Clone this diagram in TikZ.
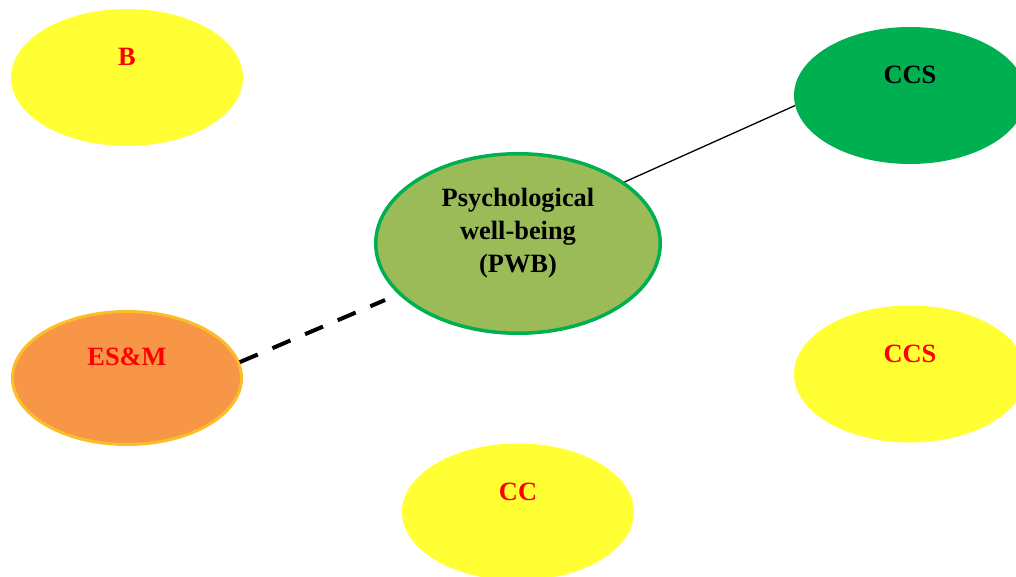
\documentclass[tikz,border=0pt]{standalone}
\usepackage{fontspec}
\setmainfont{Liberation Serif}
\usetikzlibrary{shapes.geometric}
\definecolor{ylw}{RGB}{255,255,51}
\definecolor{grn}{RGB}{0,176,80}
\definecolor{olive}{RGB}{155,187,89}
\definecolor{orng}{RGB}{247,150,70}
\definecolor{gold}{RGB}{252,190,40}
\begin{document}
\begin{tikzpicture}[x=1pt,y=-1pt,
  oval/.style={ellipse, inner sep=0pt, minimum width=232pt, minimum height=137pt},
  lbl/.style={font=\bfseries\fontsize{26.4}{33}\selectfont, text=red, inner sep=0pt}]
\useasboundingbox (0,0) rectangle (1016,577);
\clip (0,0) rectangle (1016,577);
\node[oval, fill=ylw] (b) at (127,77.5) {};
\node[lbl] (bt) at (127,57) {B};
\node[oval, fill=grn] (ccsa) at (910,95.5) {};
\node[lbl, text=black] (ccsat) at (910,75) {CCS};
\node[oval, fill=ylw] (ccsb) at (910,374) {};
\node[lbl] (ccsbt) at (910,354) {CCS};
\node[oval, fill=ylw] (cc) at (518,512) {};
\node[lbl] (cct) at (518,492) {CC};
\node[oval, fill=orng, draw=gold, line width=3pt, minimum width=229pt, minimum height=133pt] (esm) at (127,378) {};
\node[lbl] (esmt) at (127,357) {ES\&M};
\node[ellipse, inner sep=0pt, fill=olive, draw=grn, line width=3.5pt, minimum width=284.5pt, minimum height=179.5pt] (pwb) at (518,243.5) {};
\node[lbl, text=black, align=center] (pwbt) at (518,233) {Psychological\\well-being\\(PWB)};
\draw[line width=1.3pt] (pwb.30) -- (ccsa.185.3);
\draw[line width=4pt, dash pattern=on 19.5pt off 16pt, shorten >=14.4pt] (esm.8) -- (pwb.203.4);
\end{tikzpicture}
\end{document}
